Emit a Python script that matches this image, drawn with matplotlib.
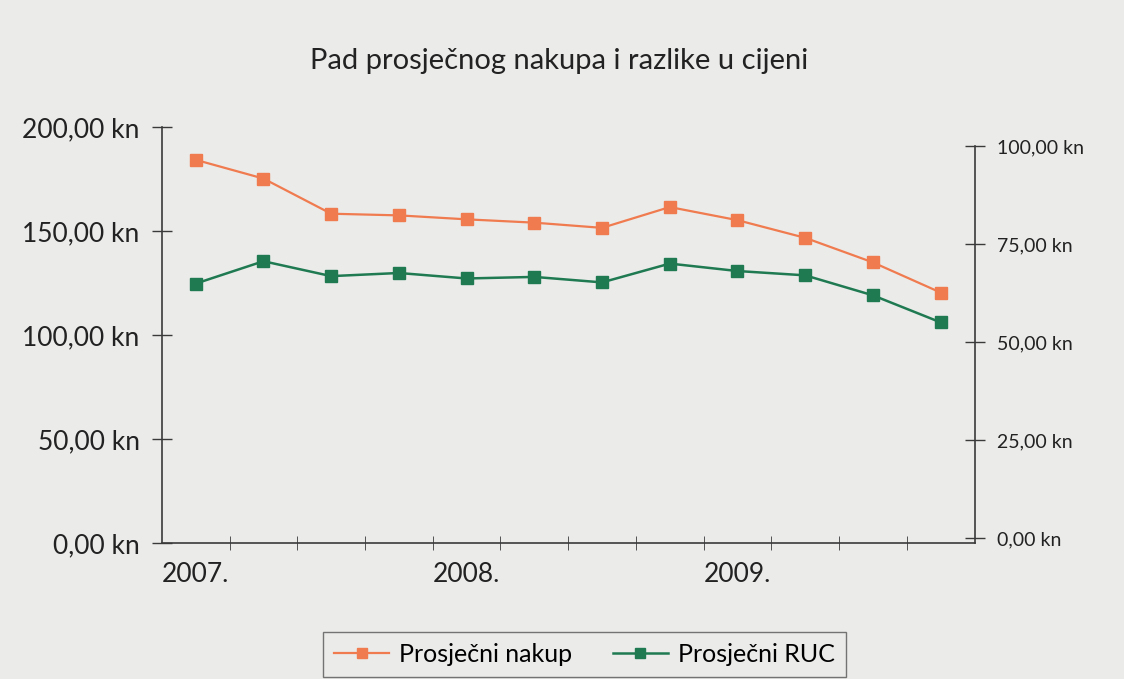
import matplotlib.pyplot as plt

# quarterly values, 2007 Q1 - 2009 Q4
quarters = list(range(12))
year_labels = ["2007.", "2008.", "2009."]
year_pos = [0, 4, 8]
nakup = [184.2, 175.2, 158.3, 157.5, 155.6, 154.0, 151.5, 161.5, 155.2, 146.7, 134.9, 120.4]
ruc = [64.9, 70.6, 66.8, 67.6, 66.2, 66.6, 65.2, 70.0, 68.1, 67.0, 61.9, 55.0]
left_ticks = [0, 50, 100, 150, 200]
right_ticks = [0, 25, 50, 75, 100]

bg = "#ebebea"
orange = "#f07b4f"
green = "#1f7a52"
axis_col = "#3a3a3a"
txt = "#222222"

plt.rcParams['font.family'] = ['Lato', 'DejaVu Sans']

fig = plt.figure(figsize=(11.24, 6.79), dpi=100, facecolor=bg)
# the scanned page is slightly skewed: the right scale is a bit shorter than the left
ax = fig.add_axes([0.144, 0.2003, 0.723, 0.6127], facecolor=bg)
ax2 = fig.add_axes([0.144, 0.2077, 0.723, 0.5773], facecolor='none', sharex=ax)

l1, = ax.plot(quarters, nakup, color=orange, lw=1.6, marker='s', ms=9,
              mfc=orange, mec=orange, label="Prosječni nakup")
l2, = ax2.plot(quarters, ruc, color=green, lw=1.8, marker='s', ms=9,
               mfc=green, mec=green, label="Prosječni RUC")

ax.set_xlim(-0.5, 11.5)
ax.set_ylim(0, 200)
ax2.set_ylim(0, 100)

ax.set_yticks(left_ticks)
ax.set_yticklabels([f"{v:.2f}".replace(".", ",") + " kn" for v in left_ticks],
                   fontsize=19, color=txt)
ax2.yaxis.tick_right()
ax2.set_yticks(right_ticks)
ax2.set_yticklabels([f"{v:.2f}".replace(".", ",") + " kn" for v in right_ticks],
                    fontsize=14, color=txt)
ax2.xaxis.set_visible(False)

ax.set_xticks(year_pos)
ax.set_xticklabels(year_labels, fontsize=19, color=txt)
ax.set_xticks([q + 0.5 for q in quarters[:-1]], minor=True)
ax.tick_params(axis='x', which='major', length=0, pad=14)
ax.tick_params(axis='x', which='minor', direction='inout', length=10, color=axis_col)
ax.tick_params(axis='y', direction='inout', length=14, width=1, color=axis_col, pad=9)
ax2.tick_params(axis='y', direction='inout', length=14, width=1, color=axis_col, pad=9)

for s in ('top', 'right'):
    ax.spines[s].set_visible(False)
for s in ('top', 'left', 'bottom'):
    ax2.spines[s].set_visible(False)
for a, s in ((ax, 'left'), (ax, 'bottom'), (ax2, 'right')):
    ax_sp = a.spines[s]
    ax_sp.set_color(axis_col)
    ax_sp.set_linewidth(1.2)
ax2.spines['right'].set_bounds(-1.3, 100)

fig.text(0.497, 0.91, "Pad prosječnog nakupa i razlike u cijeni",
         ha='center', va='center', fontsize=21, color=txt)

leg = fig.legend(handles=[l1, l2], loc='upper center', bbox_to_anchor=(0.52, 0.088),
                 ncol=2, fontsize=18, frameon=True, fancybox=False,
                 facecolor=bg, edgecolor="#555555", handlelength=2.2,
                 columnspacing=1.6, borderpad=0.45, handletextpad=0.4, markerscale=0.8)
leg.get_frame().set_linewidth(1.0)

fig.savefig("out.png", dpi=100, facecolor=bg)
